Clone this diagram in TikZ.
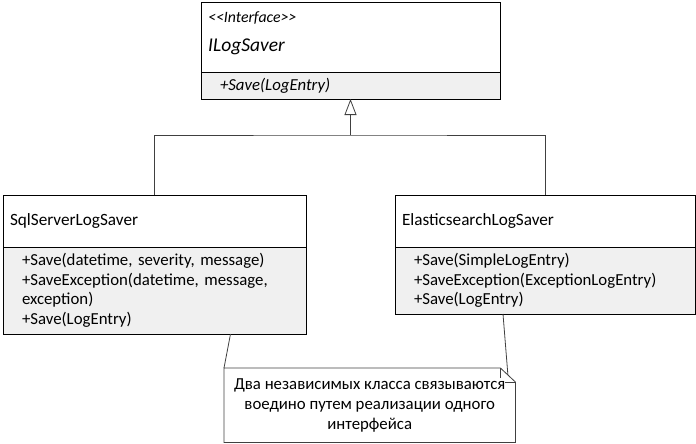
\documentclass[tikz,border=0pt]{standalone}
\usepackage{fontspec}
\setmainfont{Carlito}[Ligatures=TeXOff]
\usepackage{tikz}
\usetikzlibrary{arrows.meta}
\usetikzlibrary{positioning}
\definecolor{mgray}{rgb}{0.94, 0.94, 0.94}
\definecolor{mline}{rgb}{0.25, 0.25, 0.25}
\tikzset{classhead/.style = {draw, line width=0.8pt, fill=white, align=left, outer sep=0pt,
                             inner xsep=7pt, inner ysep=0pt, minimum height=52pt,
                             font=\fontsize{17.2}{19.5}\selectfont},
         classbody/.style = {draw, line width=0.8pt, fill=mgray, align=left, outer sep=0pt,
                             inner xsep=19pt, inner ysep=0pt,
                             font=\fontsize{16.8}{19.5}\selectfont},
         link/.style = {mline, line width=0.8pt},
         realize/.style = {link, -{Triangle[open, length=16pt, width=12pt]}},
         notetext/.style = {fill=white, align=center, inner sep=0pt,
                            font=\fontsize{16.8}{20}\selectfont}}

\begin{document}
\begin{tikzpicture}[x=1pt, y=-1pt]
    \useasboundingbox (0, 0) rectangle (696, 444);
    % interface
    \node [classhead, text width=285pt, minimum height=70pt, anchor=north west] (ihead) at (201, 2) {};
    \node [anchor=west, inner sep=0pt, font=\fontsize{15.8}{17}\selectfont\itshape] (istereo) at ([xshift=7pt, yshift=-16pt]ihead.north west) {<<Interface>>};
    \node [anchor=west, inner sep=0pt, font=\fontsize{19.5}{21}\selectfont\itshape] (iname) at ([xshift=7pt, yshift=-45pt]ihead.north west) {ILogSaver};
    \node [classbody, text width=261pt, minimum height=27pt, below=0pt of ihead, font=\fontsize{16.8}{19.5}\selectfont\itshape] (ibody) {+Save(LogEntry)};
    % classes
    \node [classhead, text width=289pt, anchor=north west] (sqlhead) at (3, 195) {SqlServerLogSaver};
    \node [classbody, text width=265pt, minimum height=87pt, below=0pt of sqlhead] (sqlbody) {+Save(datetime, severity, message)\\ +SaveException(datetime, message,\\ exception)\\ +Save(LogEntry)};
    \node [classhead, text width=286pt, anchor=north west] (eshead) at (395, 195) {ElasticsearchLogSaver};
    \node [classbody, text width=262pt, minimum height=67pt, below=0pt of eshead] (esbody) {+Save(SimpleLogEntry)\\ +SaveException(ExceptionLogEntry)\\ +Save(LogEntry)};
    % realization
    \coordinate (join) at ([yshift=-36pt]ibody.south);
    \draw [link] (sqlhead.north) |- (join) -| (eshead.north);
    \draw [realize] (join) -- (ibody.south);
    % note
    \node [minimum width=291pt, minimum height=74pt, anchor=north west, inner sep=0pt] (note) at (224, 368) {};
    \draw [link] (note.north west) -- ([xshift=-15pt]note.north east) -- ([yshift=-14pt]note.north east) -- (note.south east) -- (note.south west) -- cycle;
    \draw [link] ([xshift=-15pt]note.north east) |- ([yshift=-14pt]note.north east);
    \coordinate (fold) at ([xshift=-7.5pt, yshift=-7pt]note.north east);
    \node [notetext] (notetxt) at (note.center) {Два независимых класса связываются\\ воедино путем реализации одного\\ интерфейса};
    \draw [link] ([xshift=76pt]sqlbody.south) -- (note.north west);
    \draw [link] ([xshift=-42pt]esbody.south) -- (fold);
\end{tikzpicture}
\end{document}
